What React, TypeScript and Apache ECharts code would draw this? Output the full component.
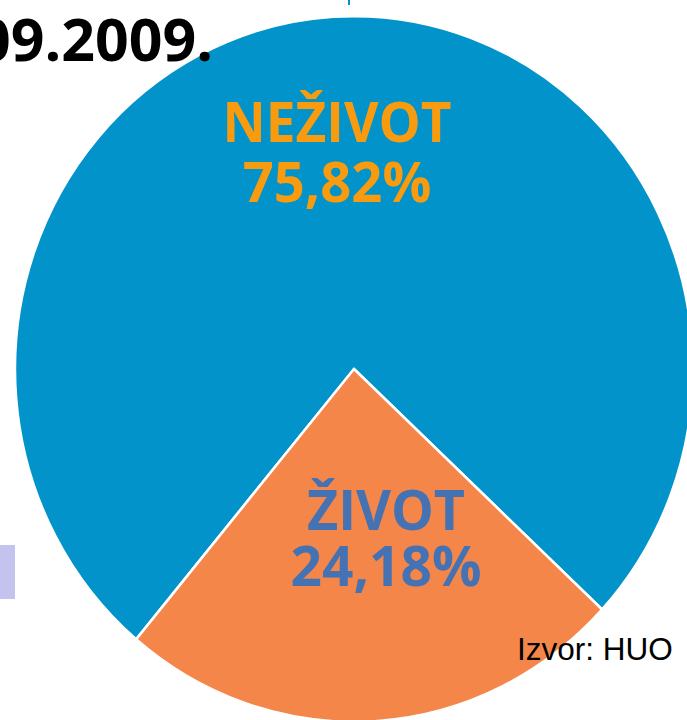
import React, { useEffect, useRef } from "react";
import * as echarts from "echarts";

const categories = ["NEŽIVOT", "ŽIVOT"];
const shares = [75.82, 24.18];
const sliceColors = ["#0293CA", "#F5864A"];
const labelColors = ["#F99B0F", "#4472B2"];
const titleText = "09.2009.";
const sourceText = "Izvor: HUO";

const fmt = (v: number) => v.toFixed(2).replace(".", ",") + "%";

export default function App() {
  const pieRef = useRef<HTMLDivElement>(null);
  const textRef = useRef<HTMLDivElement>(null);

  useEffect(() => {
    if (!pieRef.current || !textRef.current) return;
    const pie = echarts.init(pieRef.current, undefined, { renderer: "svg" });
    pie.setOption({
      animation: false,
      series: [
        {
          type: "pie",
          center: [354, 369],
          radius: [0, 339],
          startAngle: 230,
          clockwise: true,
          label: { show: false },
          labelLine: { show: false },
          silent: true,
          itemStyle: { borderColor: "#ffffff", borderWidth: 2.5 },
          data: categories.map((c, i) => ({
            name: c,
            value: shares[i],
            itemStyle: { color: sliceColors[i] },
          })),
        },
      ],
    });

    const txt = echarts.init(textRef.current, undefined, { renderer: "svg" });
    const bold = (size: number) =>
      `bold ${size}px "Open Sans", "Noto Sans", sans-serif`;
    const labelPos = [
      { x: 337, y1: 120, y2: 180, size: 56, sx1: 0.95, sx2: 0.97 },
      { x: 386, y1: 509, y2: 564, size: 55, sx1: 0.98, sx2: 1.0 },
    ];
    const graphics: any[] = [
      {
        type: "rect",
        shape: { x: 0, y: 545, width: 15, height: 54 },
        style: { fill: "#C3C3EE" },
      },
      {
        type: "rect",
        shape: { x: 348, y: 0, width: 2, height: 5 },
        style: { fill: "#0293CA" },
      },
      {
        type: "text",
        x: 213,
        y: 38,
        scaleX: 1.0,
        style: {
          text: titleText,
          font: bold(59),
          fill: "#000000",
          textAlign: "right",
          textVerticalAlign: "middle",
        },
      },
      {
        type: "text",
        x: 517,
        y: 649,
        style: {
          text: sourceText,
          font: `31.5px "Liberation Sans", Arial, sans-serif`,
          fill: "#000000",
          textAlign: "left",
          textVerticalAlign: "middle",
        },
      },
    ];
    categories.forEach((c, i) => {
      const p = labelPos[i];
      graphics.push({
        type: "text",
        x: p.x,
        y: p.y1,
        scaleX: p.sx1,
        style: {
          text: c,
          font: bold(p.size),
          fill: labelColors[i],
          textAlign: "center",
          textVerticalAlign: "middle",
        },
      });
      graphics.push({
        type: "text",
        x: p.x,
        y: p.y2,
        scaleX: p.sx2,
        style: {
          text: fmt(shares[i]),
          font: bold(p.size),
          fill: labelColors[i],
          textAlign: "center",
          textVerticalAlign: "middle",
        },
      });
    });
    txt.setOption({ animation: false, graphic: graphics });

    return () => {
      pie.dispose();
      txt.dispose();
    };
  }, []);

  return (
    <div
      style={{
        position: "fixed",
        left: 0,
        top: 0,
        width: 687,
        height: 720,
        overflow: "hidden",
        background: "#ffffff",
      }}
    >
      <div
        ref={pieRef}
        style={{
          position: "absolute",
          left: 0,
          top: 0,
          width: 687,
          height: 720,
          transform: "scaleY(1.041)",
          transformOrigin: "0 369px",
        }}
      />
      <div
        ref={textRef}
        style={{ position: "absolute", left: 0, top: 0, width: 687, height: 720 }}
      />
    </div>
  );
}
